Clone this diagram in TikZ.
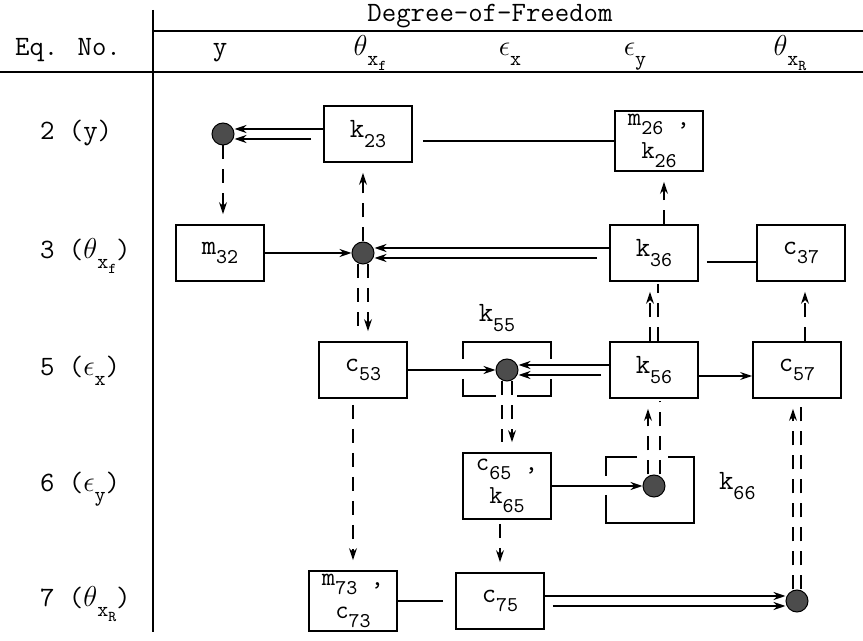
\documentclass[tikz,border=0pt]{standalone}
\usetikzlibrary{arrows.meta,calc}
\newcommand{\lo}[1]{\raisebox{-0.8ex}{\fontsize{10.5}{12}\selectfont #1}}
\newcommand{\llo}[1]{\raisebox{-0.5ex}{\fontsize{7.5}{9}\selectfont #1}}
\begin{document}
\begin{tikzpicture}[x=0.5pt,y=-0.5pt,
  font=\ttfamily\fontsize{14}{14}\selectfont,
  box/.style={draw,line width=0.9pt,align=center,minimum width=44pt,minimum height=28pt,inner sep=1pt},
  twobox/.style={box,minimum height=30pt,font=\ttfamily\fontsize{13}{16.5}\selectfont},
  sdot/.style={circle,draw,line width=0.5pt,fill=black!70,minimum size=11pt,inner sep=0pt},
  ln/.style={line width=0.9pt},
  arr/.style={ln,-{Stealth[length=6pt,width=4pt]}},
  dsh/.style={ln,dash pattern=on 7pt off 5pt},
  darr/.style={arr,dash pattern=on 7pt off 5pt,shorten >=5pt}
]
\useasboundingbox (0,0) rectangle (863,641);

% table frame
\node (dof) at (490,16) {Degree-of-Freedom};
\node[anchor=base] (eqno) at (68,56) {Eq. No.};
\node[anchor=base] (hy) at (220,56) {y};
\node[anchor=base] (hthf) at (370,56) {$\theta$\lo{x\llo{f}}};
\node[anchor=base] (hepx) at (510,56) {$\epsilon$\lo{x}};
\node[anchor=base] (hepy) at (635,56) {$\epsilon$\lo{y}};
\node[anchor=base] (hthr) at (790,56) {$\theta$\lo{x\llo{R}}};
\draw[ln] (153,31) -- (863,31);
\draw[ln] (0,72) -- (863,72);
\draw[ln] (153,10) -- (153,632);

% equation numbers
\node[anchor=base west] (r2) at (33,140) {2 (y)};
\node[anchor=base west] (r3) at (33,259) {3 ($\theta$\lo{x\llo{f}})};
\node[anchor=base west] (r5) at (33,376) {5 ($\epsilon$\lo{x})};
\node[anchor=base west] (r6) at (33,492) {6 ($\epsilon$\lo{y})};
\node[anchor=base west] (r7) at (33,607) {7 ($\theta$\lo{x\llo{R}})};

% terms
\node[sdot] (d2) at (223,134) {};
\node[box] (k23) at (368,134) {k\lo{23}};
\node[twobox] (m26) at (659,141) {m\lo{26} ,\\k\lo{26}};
\node[box] (m32) at (220,253) {m\lo{32}};
\node[sdot] (d3) at (363,253) {};
\node[box] (k36) at (654,253) {k\lo{36}};
\node[box] (c37) at (801,253) {c\lo{37}};
\node[box] (c53) at (363,370) {c\lo{53}};
\node[sdot] (d5) at (507,370) {};
\node[box] (k56) at (654,370) {k\lo{56}};
\node[box] (c57) at (797,370) {c\lo{57}};
\node[twobox,minimum height=33pt] (c65) at (507,486) {c\lo{65} ,\\k\lo{65}};
\node[sdot] (d6) at (654,486) {};
\node[twobox] (m73) at (353,601) {m\lo{73} ,\\c\lo{73}};
\node[box] (c75) at (500,601) {c\lo{75}};
\node[sdot] (d7) at (797,601) {};
\node (k55) at (497,318) {k\lo{55}};
\node[anchor=west] (k66) at (712,486) {k\lo{66}};

% open frames round the diagonal terms
\draw[ln] ($(d5.center)+(-44,-11)$) -- ($(d5.center)+(-44,-28)$) -- ($(d5.center)+(44,-28)$) -- ($(d5.center)+(44,-11)$);
\draw[ln] ($(d5.center)+(-44,9)$) -- ($(d5.center)+(-44,26)$) -- ($(d5.center)+(-11,26)$);
\draw[ln] ($(d5.center)+(10,26)$) -- ($(d5.center)+(44,26)$) -- ($(d5.center)+(44,9)$);
\draw[ln] ($(d6.center)+(-17,-29)$) -- ($(d6.center)+(-48,-29)$) -- ($(d6.center)+(-48,-10)$);
\draw[ln] ($(d6.center)+(-48,9)$) -- ($(d6.center)+(-48,37)$) -- ($(d6.center)+(40,37)$) -- ($(d6.center)+(40,-29)$) -- ($(d6.center)+(14,-29)$);

% row 2
\draw[arr] ([yshift=2.5pt]k23.west) -- ([yshift=2.5pt]d2.east);
\draw[arr] ([xshift=-6pt,yshift=-2.5pt]k23.west) -- ([yshift=-2.5pt]d2.east);
\draw[ln,shorten <=5pt] (k23.east |- m26.west) -- (m26.west);
\draw[darr] (d2) -- (d2 |- m32.north);

% row 3
\draw[arr] (m32) -- (d3);
\draw[arr] ([yshift=2.5pt]k36.west) -- ([yshift=2.5pt]d3.east);
\draw[arr] ([xshift=-6pt,yshift=-2.5pt]k36.west) -- ([yshift=-2.5pt]d3.east);
\draw[ln,shorten <=4pt] ([yshift=-4.5pt]k36.east) -- ([yshift=-4.5pt]c37.west);
\draw[darr] (d3) -- (d3 |- k23.south);
\draw[darr] ($(k36.north)+(10,0)$) -- ($(k36.north |- m26.south)+(10,0)$);
\draw[dsh,shorten >=5pt] ([xshift=-2.5pt]d3.south) -- ([xshift=-2.5pt]c53.north);
\draw[darr] ([xshift=2.5pt]d3.south) -- ([xshift=2.5pt]c53.north);

% row 5
\draw[arr] (c53) -- (d5);
\draw[arr] ([yshift=2.5pt]k56.west) -- ([yshift=2.5pt]d5.east);
\draw[arr] ([xshift=-4pt,yshift=-2.5pt]k56.west) -- ([yshift=-2.5pt]d5.east);
\draw[arr] ([yshift=-3pt]k56.east) -- ([yshift=-3pt]c57.west);
\draw[darr] ([xshift=-2pt]k56.north) -- ([xshift=-2pt]k36.south);
\draw[dsh,shorten >=1pt] ([xshift=2pt]k56.north) -- ([xshift=2pt]k36.south);
\draw[darr] ($(c57.north)+(8,0)$) -- ($(c57.north |- c37.south)+(8,0)$);
\draw[dsh,shorten >=5pt] ([xshift=-2.5pt]d5.south) -- ([xshift=-2.5pt]c65.north);
\draw[darr] ([xshift=2.5pt]d5.south) -- ([xshift=2.5pt]c65.north);
\draw[darr,shorten <=3pt] (m73.north |- c53.south) -- (m73.north);

% row 6
\draw[arr] (c65) -- (d6);
\draw[darr] ([xshift=-3pt]d6.north) -- ([xshift=-3pt]k56.south);
\draw[dsh,shorten >=1pt] ([xshift=3pt]d6.north) -- ([xshift=3pt]k56.south);
\draw[darr,shorten <=2pt] (c75.north |- c65.south) -- (c75.north);

% row 7
\draw[ln,shorten >=6pt] (m73) -- (c75);
\draw[arr] ([yshift=2.5pt]c75.east) -- ([yshift=2.5pt]d7.west);
\draw[arr] ([xshift=4pt,yshift=-2.5pt]c75.east) -- ([yshift=-2.5pt]d7.west);
\draw[darr] ([xshift=-2pt]d7.north) -- ([xshift=-2pt]c57.south);
\draw[dsh,shorten >=1pt] ([xshift=2pt]d7.north) -- ([xshift=2pt]c57.south);
\end{tikzpicture}
\end{document}
